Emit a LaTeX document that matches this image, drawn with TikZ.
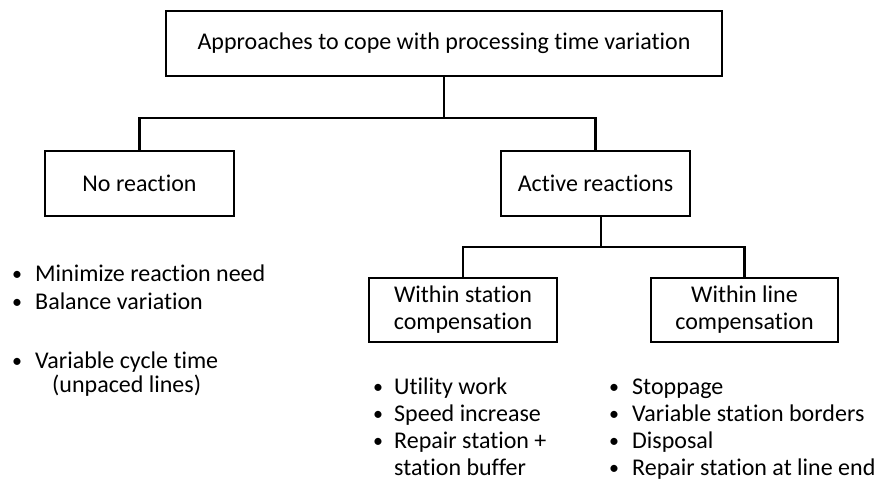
\documentclass[tikz,border=0pt]{standalone}
\usepackage{fontspec}
\setmainfont{Carlito}[Ligatures=NoCommon]
\begin{document}
\begin{tikzpicture}[x=1pt,y=-1pt,
  box/.style={draw=black, line width=2.8pt, fill=white, inner sep=0pt,
    align=center, font=\fontsize{24}{27}\selectfont},
  link/.style={draw=black, line width=2.8pt},
  item/.style={anchor=base west, inner sep=0pt, font=\fontsize{24}{27}\selectfont},
  dot/.style={anchor=base west, inner sep=0pt, font=\fontsize{20}{27}\selectfont}
]
\useasboundingbox (0,0) rectangle (877,484);

% tree boxes
\node[box, minimum width=556pt, minimum height=65pt] (top) at (444,43.5)
  {Approaches to cope with processing time variation};
\node[box, minimum width=189pt, minimum height=65pt] (nr) at (139.5,183.5) {No reaction};
\node[box, minimum width=189pt, minimum height=65pt] (ar) at (595.5,183.5) {Active reactions};
\node[box, minimum width=188pt, minimum height=64pt] (ws) at (463,310) {Within station\\compensation};
\node[box, minimum width=187pt, minimum height=64pt] (wl) at (744.5,310) {Within line\\compensation};

% connectors
\coordinate (split1) at (444,118);
\coordinate (arout) at ([xshift=5.5pt]ar.south);
\coordinate (split2) at (601,247);
\draw[link] (nr.north) |- (split1) -| (ar.north);
\draw[link] (top.south) -- (split1);
\draw[link] (ws.north) |- (split2) -| (wl.north);
\draw[link] (arout) -- (split2);

% bullet lists under "No reaction"
\node[dot] (b1) at (12,280) {•};
\node[item] (t1) at (35,281) {Minimize reaction need};
\node[dot] (b2) at (12,308) {•};
\node[item] (t2) at (35,309) {Balance variation};
\node[dot] (b3) at (12,367) {•};
\node[item] (t3) at (35,368) {Variable cycle time};
\node[item] (t3b) at (52,392) {(unpaced lines)};

% bullet list under "Within station compensation"
\node[dot] (c1) at (373,393) {•};
\node[item] (u1) at (394,394) {Utility work};
\node[dot] (c2) at (373,420) {•};
\node[item] (u2) at (394,421) {Speed increase};
\node[dot] (c3) at (373,447) {•};
\node[item] (u3) at (394,448) {Repair station +};
\node[item] (u3b) at (394,475) {station buffer};

% bullet list under "Within line compensation"
\node[dot] (d1) at (609,393) {•};
\node[item] (v1) at (632,394) {Stoppage};
\node[dot] (d2) at (609,420) {•};
\node[item] (v2) at (632,421) {Variable station borders};
\node[dot] (d3) at (609,447) {•};
\node[item] (v3) at (632,448) {Disposal};
\node[dot] (d4) at (609,474) {•};
\node[item] (v4) at (632,475) {Repair station at line end};
\end{tikzpicture}
\end{document}
